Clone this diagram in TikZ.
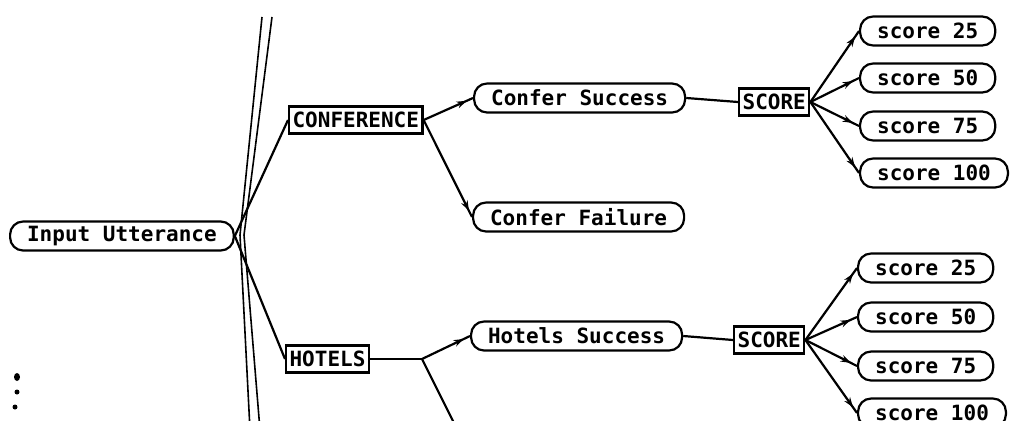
\documentclass[tikz,border=0pt]{standalone}
\usepackage{fontspec}
\newfontfamily\plotfont{DejaVu Sans Mono}
\usetikzlibrary{arrows.meta, decorations.markings}

\tikzset{
    pill/.style={draw, line width=2.2pt, rounded corners=13pt, minimum height=29pt, inner xsep=17pt, inner ysep=0pt, anchor=west, font=\plotfont\bfseries\fontsize{21}{24}\selectfont},
    tag/.style={draw, line width=2.2pt, minimum height=27pt, inner xsep=3.5pt, inner ysep=0pt, anchor=west, font=\plotfont\bfseries\fontsize{21}{24}\selectfont},
    link/.style={line width=2.2pt},
    pointer/.style={line width=2.2pt, postaction={decorate}, decoration={markings, mark=at position -7pt with {\arrow{Stealth[length=10pt, width=7pt]}}}},
}

\begin{document}
\begin{tikzpicture}[x=1pt, y=-1pt]
    \useasboundingbox (0,0) rectangle (1011,420);
    \clip (0,0) rectangle (1011,420);

    % break lines
    \draw[line width=1.6pt] (262,17) -- (240,235) -- (250,430);
    \draw[line width=1.6pt] (272,17) -- (244,235) -- (260,430);
    \fill (17,377) ellipse [x radius=3pt, y radius=4pt];
    \fill (17,392) circle (2.5pt);
    \fill (15,407) circle (2.5pt);

    \node[pill] (iu) at (9,236) {Input Utterance};
    \node[tag] (conf) at (288,120) {CONFERENCE};
    \node[tag] (hot) at (285,359) {HOTELS};
    \draw[link] (iu.east) -- (conf.west);
    \draw[link] (iu.east) -- (hot.west);

    % conference branch
    \node[pill] (csucc) at (473,98) {Confer Success};
    \node[pill] (cfail) at (472,217) {Confer Failure};
    \node[tag] (cscore) at (738,102) {SCORE};
    \draw[pointer] (conf.east) -- (csucc.west);
    \draw[pointer] (conf.east) -- (cfail.west);
    \draw[link] (csucc.east) -- (cscore.west);
    \foreach \s/\y in {25/31, 50/78, 75/126, 100/173} {
        \node[pill] (cs\s) at (859,\y) {score \s};
        \draw[pointer] (cscore.east) -- (cs\s.west);
    }

    % hotels branch
    \coordinate (hfork) at (422,359);
    \coordinate (hfail) at (470,455);
    \node[pill] (hsucc) at (470,336) {Hotels Success};
    \node[tag] (hscore) at (733,340) {SCORE};
    \draw[link] (hot.east) -- (hfork);
    \draw[pointer] (hfork) -- (hsucc.west);
    \draw[pointer] (hfork) -- (hfail);
    \draw[link] (hsucc.east) -- (hscore.west);
    \foreach \s/\y in {25/268, 50/317, 75/366, 100/413} {
        \node[pill] (hs\s) at (857,\y) {score \s};
        \draw[pointer] (hscore.east) -- (hs\s.west);
    }
\end{tikzpicture}
\end{document}
